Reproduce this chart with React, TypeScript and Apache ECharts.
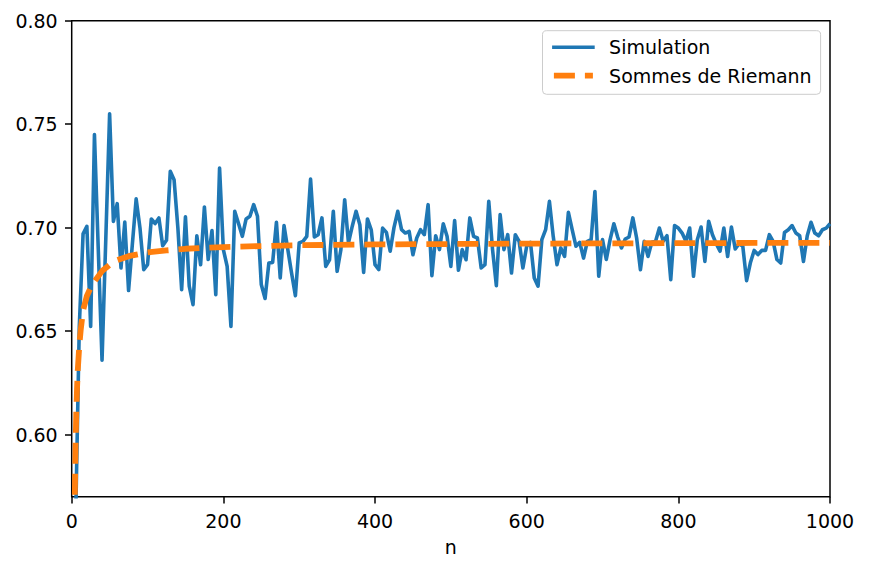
import React, { useEffect, useRef } from "react";
import * as echarts from "echarts";

// Simulation: one estimate every 5 values of n, from n = 5 to n = 1000
const simStart = 5;
const simStep = 5;
const simValues = [
  0.555, 0.652, 0.697, 0.7006, 0.6523, 0.745, 0.69, 0.636, 0.695, 0.755,
  0.703, 0.7116, 0.6805, 0.7027, 0.6696, 0.692, 0.7139, 0.7, 0.6797, 0.6821,
  0.7042, 0.702, 0.7047, 0.6913, 0.6939, 0.7272, 0.7232, 0.7, 0.67, 0.7052,
  0.6717, 0.6628, 0.6961, 0.6821, 0.71, 0.6846, 0.6986, 0.6676, 0.7288, 0.6894,
  0.6813, 0.6523, 0.7079, 0.702, 0.6958, 0.7042, 0.7055, 0.7111, 0.7055, 0.6725,
  0.6658, 0.6829, 0.6832, 0.7026, 0.6757, 0.701, 0.6894, 0.678, 0.6671, 0.6926,
  0.6934, 0.6958, 0.7235, 0.6955, 0.6966, 0.7047, 0.6813, 0.6845, 0.7079, 0.6789,
  0.6894, 0.7135, 0.6926, 0.7007, 0.7079, 0.7014, 0.6784, 0.7042, 0.699, 0.6821,
  0.6797, 0.6998, 0.6977, 0.6886, 0.7, 0.7079, 0.699, 0.6974, 0.6982, 0.6869,
  0.695, 0.699, 0.6966, 0.7111, 0.6768, 0.6961, 0.6894, 0.7019, 0.6958, 0.6813,
  0.7034, 0.6794, 0.6894, 0.6845, 0.7047, 0.6958, 0.695, 0.6805, 0.6821, 0.7127,
  0.6894, 0.672, 0.7063, 0.6894, 0.6966, 0.6781, 0.6966, 0.6934, 0.6805, 0.691,
  0.6929, 0.6757, 0.6717, 0.6942, 0.699, 0.7127, 0.6958, 0.6821, 0.6902, 0.6861,
  0.7074, 0.699, 0.691, 0.6929, 0.6853, 0.6934, 0.6942, 0.7175, 0.6765, 0.6942,
  0.6846, 0.6942, 0.7019, 0.6955, 0.6902, 0.6945, 0.6955, 0.7047, 0.695, 0.6797,
  0.6934, 0.6861, 0.6929, 0.6934, 0.6998, 0.6934, 0.6961, 0.6749, 0.701, 0.6998,
  0.6974, 0.6934, 0.6998, 0.6765, 0.6942, 0.7003, 0.6837, 0.7031, 0.6966, 0.6923,
  0.6886, 0.6998, 0.6861, 0.7003, 0.6897, 0.6923, 0.691, 0.6744, 0.683, 0.689,
  0.687, 0.689, 0.689, 0.6966, 0.6934, 0.6846, 0.6829, 0.6977, 0.699, 0.701,
  0.6974, 0.6961, 0.6837, 0.6961, 0.7026, 0.6974, 0.6961, 0.699, 0.6998, 0.7019,
];
const simN = simValues.map((_, i) => simStart + i * simStep);

// Riemann sums, read at a set of n values
const riemannN = [3, 4, 5, 6, 7, 8, 10, 12, 15, 20, 25, 30, 40, 50, 60, 75, 100, 125, 150, 200, 250, 300, 400, 500, 600, 700, 800, 900, 1000];
const riemannValues = [
  0.526, 0.568, 0.593, 0.61, 0.622, 0.631, 0.643, 0.651, 0.66, 0.667,
  0.671, 0.674, 0.679, 0.682, 0.6843, 0.6862, 0.688, 0.689, 0.6898, 0.6906,
  0.6911, 0.6915, 0.6919, 0.6921, 0.6923, 0.6924, 0.6925, 0.6926, 0.6926,
];

const seriesNames = ["Simulation", "Sommes de Riemann"];
const xTicks = [0, 200, 400, 600, 800, 1000];
const yTicks = [0.6, 0.65, 0.7, 0.75, 0.8];
const yMin = 0.57;
const yMax = 0.8;
const xLabel = "n";

const FONT = "DejaVu Sans";
const BLUE = "#1f77b4";
const ORANGE = "#ff7f0e";

export default function App() {
  const ref = useRef<HTMLDivElement>(null);

  useEffect(() => {
    document.body.style.margin = "0";
    const chart = echarts.init(ref.current as HTMLDivElement, null, { renderer: "svg" });
    const simData = simN.map((n, i) => [n, simValues[i]]);
    const riemannData = riemannN.map((n, i) => [n, riemannValues[i]]);

    chart.setOption({
      animation: false,
      backgroundColor: "#ffffff",
      textStyle: { fontFamily: FONT, color: "#000" },
      grid: {
        left: 71.7,
        right: 39,
        top: 20.7,
        bottom: 73.3,
        show: true,
        borderColor: "#000",
        borderWidth: 1.5,
        backgroundColor: "transparent",
      },
      legend: {
        orient: "vertical",
        left: 542.5,
        top: 30.7,
        itemWidth: 39,
        itemHeight: 14,
        itemGap: 8.4,
        padding: [6.6, 9, 8.6, 8.5],
        backgroundColor: "rgba(255,255,255,0.8)",
        borderColor: "#cccccc",
        borderWidth: 1,
        borderRadius: 4,
        selectedMode: false,
        textStyle: {
          fontFamily: FONT,
          fontSize: 19,
          color: "#000",
          lineHeight: 20,
          padding: [0, 0, 0, 11.2],
        },
        data: [
          {
            name: seriesNames[0],
            lineStyle: { width: 3.6, cap: "square", dashOffset: 0 },
            itemStyle: { opacity: 0, color: "rgba(0,0,0,0)", borderWidth: 0 },
          },
          {
            name: seriesNames[1],
            lineStyle: { width: 5.8, cap: "butt", dashOffset: 0 },
            itemStyle: { opacity: 0, color: "rgba(0,0,0,0)", borderWidth: 0 },
          },
        ],
      },
      xAxis: {
        type: "value",
        min: xTicks[0],
        max: xTicks[xTicks.length - 1],
        interval: xTicks[1] - xTicks[0],
        splitLine: { show: false },
        axisLine: { show: false },
        axisTick: { show: true, length: 6.7, lineStyle: { color: "#000", width: 1.5 } },
        axisLabel: {
          fontFamily: FONT,
          fontSize: 19,
          color: "#000",
          margin: 15,
          formatter: (v: number) => String(v),
        },
        name: xLabel,
        nameLocation: "middle",
        nameGap: 41,
        nameTextStyle: { fontFamily: FONT, fontSize: 19, color: "#000" },
      },
      yAxis: {
        type: "value",
        min: yMin,
        max: yMax,
        splitLine: { show: false },
        axisLine: { show: false },
        axisTick: {
          show: true,
          length: 6.7,
          customValues: yTicks,
          lineStyle: { color: "#000", width: 1.5 },
        },
        axisLabel: {
          fontFamily: FONT,
          fontSize: 19,
          color: "#000",
          margin: 14,
          customValues: yTicks,
          formatter: (v: number) => v.toFixed(2),
        },
      },
      series: [
        {
          name: seriesNames[0],
          type: "line",
          data: simData,
          symbol: "none",
          showSymbol: false,
          clip: true,
          lineStyle: { color: BLUE, width: 3.6, join: "round" },
          itemStyle: { color: BLUE },
          emphasis: { disabled: true },
          z: 2,
        },
        {
          name: seriesNames[1],
          type: "line",
          data: riemannData,
          symbol: "none",
          showSymbol: false,
          clip: true,
          lineStyle: { color: ORANGE, width: 5.8, type: [21, 10], cap: "butt", join: "round" },
          itemStyle: { color: ORANGE },
          emphasis: { disabled: true },
          z: 3,
        },
      ],
    });

    return () => chart.dispose();
  }, []);

  return <div ref={ref} style={{ width: 869, height: 570 }} />;
}
